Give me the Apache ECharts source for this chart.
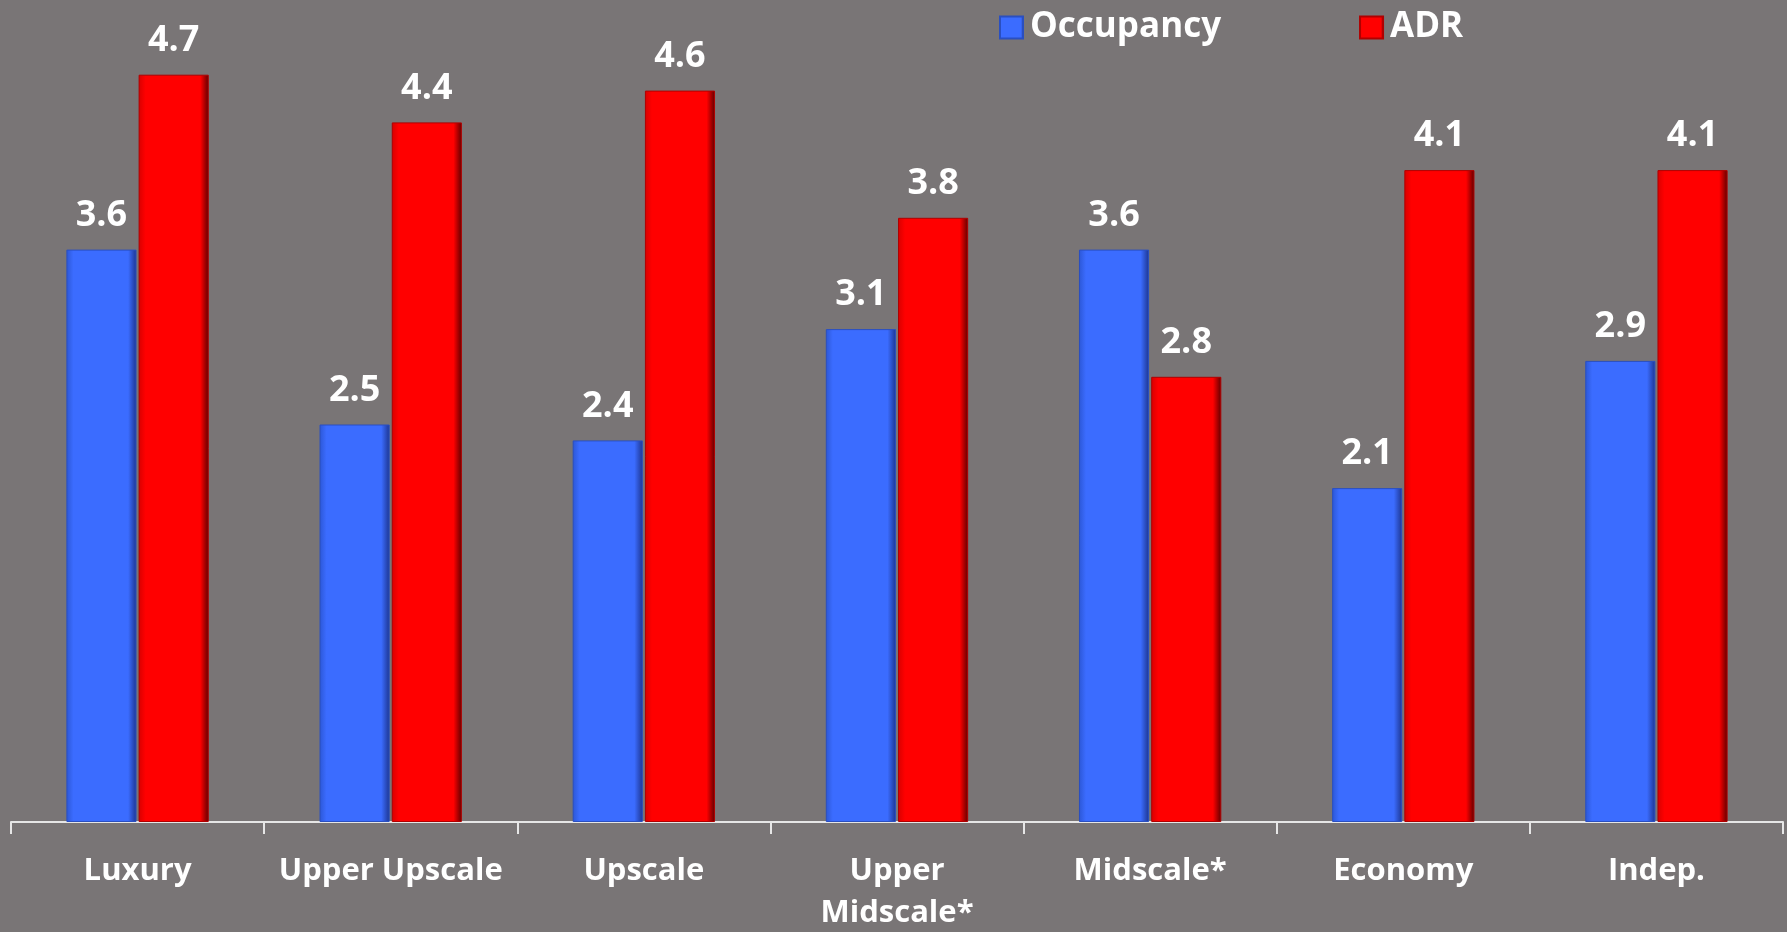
<!DOCTYPE html>
<html>
<head>
<meta charset="utf-8">
<style>
  html, body { margin: 0; padding: 0; background: #797576; }
  #chart { width: 1787px; height: 932px; }
</style>
<script src="https://cdn.jsdelivr.net/npm/echarts@6/dist/echarts.min.js"></script>
</head>
<body>
<div id="chart"></div>
<script>
// Hotel segments and their percentage changes
const categories = ['Luxury', 'Upper Upscale', 'Upscale', 'Upper\nMidscale*', 'Midscale*', 'Economy', 'Indep.'];
const occupancy = [3.6, 2.5, 2.4, 3.1, 3.6, 2.1, 2.9];
const adr = [4.7, 4.4, 4.6, 3.8, 2.8, 4.1, 4.1];

const FONT = '"Open Sans", Lato, sans-serif';

// Horizontal shading gives the bars a bevelled, 3D look
function bevel(edgeL, main, edgeR) {
  return new echarts.graphic.LinearGradient(0, 0, 1, 0, [
    { offset: 0, color: edgeL },
    { offset: 0.1, color: main },
    { offset: 0.88, color: main },
    { offset: 1, color: edgeR }
  ]);
}

const blueFill = bevel('#2c57d6', '#3b6cff', '#1d3590');
const redFill = bevel('#d80000', '#ff0000', '#5e0000');

const valueLabel = {
  show: true,
  position: 'top',
  distance: 16,
  color: '#ffffff',
  fontFamily: FONT,
  fontWeight: 'bold',
  fontSize: 36,
  formatter: p => p.value.toFixed(1)
};

const chart = echarts.init(document.getElementById('chart'), null, { renderer: 'canvas' });
chart.setOption({
  backgroundColor: '#797576',
  animation: false,
  legend: {
    top: 5,
    left: 994,
    itemWidth: 23,
    itemHeight: 22,
    itemGap: 138,
    textStyle: { color: '#ffffff', fontFamily: FONT, fontWeight: 'bold', fontSize: 35, padding: [0, 0, 0, 2] },
    data: [
      { name: 'Occupancy', icon: 'rect' },
      { name: 'ADR', icon: 'rect' }
    ]
  },
  grid: { left: 11, right: 4, top: 27, bottom: 110, containLabel: false, outerBoundsMode: 'none' },
  xAxis: {
    type: 'category',
    data: categories,
    axisLine: { lineStyle: { color: '#e6e6e6', width: 2 } },
    axisTick: { show: true, length: 12, lineStyle: { color: '#e6e6e6', width: 2 } },
    axisLabel: {
      color: '#ffffff',
      fontFamily: FONT,
      fontWeight: 'bold',
      fontSize: 31,
      lineHeight: 42,
      margin: 28,
      interval: 0
    }
  },
  yAxis: {
    type: 'value',
    min: 0,
    max: 5,
    show: false,
    splitLine: { show: false }
  },
  series: [
    {
      name: 'Occupancy',
      type: 'bar',
      data: occupancy,
      barWidth: '27.7%',
      barGap: '3%',
      itemStyle: { color: blueFill, borderColor: '#2a4fc0', borderWidth: 1 },
      label: valueLabel
    },
    {
      name: 'ADR',
      type: 'bar',
      data: adr,
      barWidth: '27.7%',
      itemStyle: { color: redFill, borderColor: '#b00000', borderWidth: 1 },
      label: valueLabel
    }
  ]
});
</script>
</body>
</html>
